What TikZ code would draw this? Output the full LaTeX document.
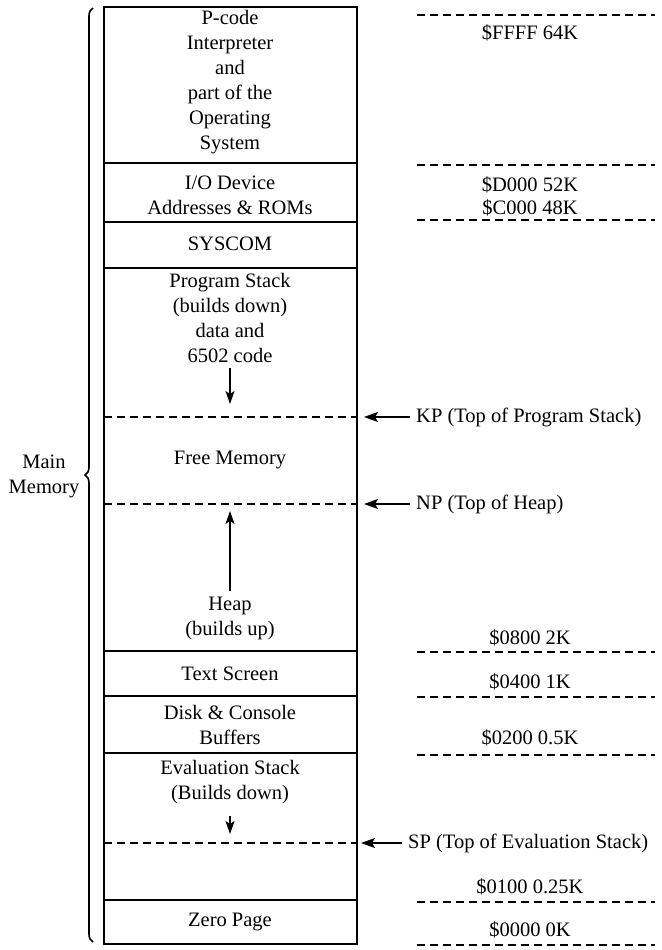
\documentclass[tikz,border=0pt]{standalone}
\usepackage{fontspec}
\setmainfont{Liberation Serif}
\usetikzlibrary{arrows.meta, decorations.pathreplacing, positioning}

\tikzset{
  region/.style={align=center, inner sep=0pt, font=\fontsize{20.5}{25}\selectfont},
  addr/.style={region},
  ptr/.style={-{Stealth[length=14pt,width=10pt,inset=3pt]}, line width=1.6pt},
  growarrow/.style={-{Stealth[length=13pt,width=9pt,inset=3pt]}, line width=1.6pt},
  split/.style={dash pattern=on 8pt off 5pt, line width=1.5pt},
  wall/.style={line width=1.6pt},
}

\begin{document}
\begin{tikzpicture}[x=1pt, y=-1pt]
\useasboundingbox (0,0) rectangle (661,950);

% outline of the memory map
\draw[wall] (104,7) rectangle (357,944);
\foreach \y in {163,222,268,651,696,753,900}
  \draw[wall] (104,\y) -- (357,\y);
\foreach \y in {417,504,843}
  \draw[split] (104,\y) -- (357,\y);

% address marks on the right
\foreach \y in {15,165,220,652,697,755,902,945}
  \draw[split] (417,\y) -- (655,\y);

% contents
\node[region] (pcode) at (230,82) {P-code\\Interpreter\\and\\part of the\\Operating\\System};
\node[region] (io) at (230,195) {I/O Device\\Addresses \& ROMs};
\node[region] (syscom) at (230,244) {SYSCOM};
\node[region] (progstack) at (230,318) {Program Stack\\(builds down)\\data and\\6502 code};
\node[region] (free) at (230,460) {Free Memory};
\node[region] (heap) at (230,618) {Heap\\(builds up)};
\node[region] (text) at (230,674) {Text Screen};
\node[region] (disk) at (230,725) {Disk \& Console\\Buffers};
\node[region] (eval) at (230,782) {Evaluation Stack\\(Builds down)};
\node[region] (zero) at (230,922) {Zero Page};

% growth directions
\coordinate (kptop) at (230,404);
\coordinate (nptop) at (230,511);
\coordinate (sptop) at (230,834);
\draw[growarrow, shorten <=5pt] (progstack.south) -- (kptop);
\draw[growarrow, shorten <=5pt] (heap.north) -- (nptop);
\draw[growarrow, shorten <=12pt] (eval.south) -- (sptop);

% pointers
\node[region, anchor=west] (kp) at (416,417) {KP (Top of Program Stack)};
\node[region, anchor=west] (np) at (416,504) {NP (Top of Heap)};
\node[region, anchor=west] (sp) at (408,843) {SP (Top of Evaluation Stack)};
\coordinate (kpend) at (364,417);
\coordinate (npend) at (364,504);
\coordinate (spend) at (361,843);
\draw[ptr] ([xshift=-6pt]kp.west) -- (kpend);
\draw[ptr] ([xshift=-6pt]np.west) -- (npend);
\draw[ptr] ([xshift=-6pt]sp.west) -- (spend);

% addresses
\node[addr] (ffff) at (530,33) {\$FFFF 64K};
\node[addr] (d000) at (530,185) {\$D000 52K};
\node[addr] (c000) at (530,208) {\$C000 48K};
\node[addr] (a0800) at (530,638) {\$0800 2K};
\node[addr] (a0400) at (530,682) {\$0400 1K};
\node[addr] (a0200) at (530,738) {\$0200 0.5K};
\node[addr] (a0100) at (530,887) {\$0100 0.25K};
\node[addr] (a0000) at (530,930) {\$0000 0K};

% main memory brace
\draw[decorate, decoration={brace, amplitude=8pt}, line width=1.6pt] (93,942) -- (93,8);
\node[region] (mainmem) at (44,476) {Main\\Memory};
\end{tikzpicture}
\end{document}
